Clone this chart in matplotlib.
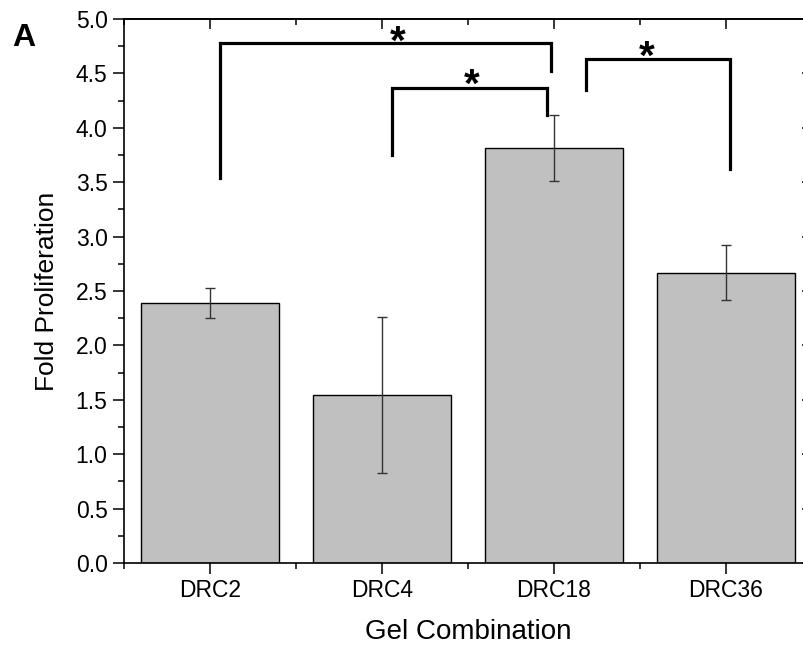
import matplotlib
matplotlib.use("Agg")
import matplotlib.pyplot as plt
import numpy as np

plt.rcParams['font.family'] = ['Liberation Sans', 'DejaVu Sans']

categories = ["DRC2", "DRC4", "DRC18", "DRC36"]
values = [2.39, 1.545, 3.815, 2.67]
errors = [0.14, 0.715, 0.305, 0.25]

# significance brackets: (left x, right x, top y, left-leg bottom, right-leg bottom)
brackets = [
    (0.06, 1.98, 4.78, 3.54, 4.52),
    (1.056, 1.957, 4.37, 3.75, 4.12),
    (2.184, 3.023, 4.63, 4.35, 3.62),
]
stars = [(1.09, 4.88), (1.52, 4.49), (2.54, 4.74)]

fig = plt.figure(figsize=(8.04, 6.5), dpi=100)
ax = fig.add_axes([124/804, 87/650, 688/804, 544/650])

x = np.arange(len(categories))
ax.bar(x, values, width=0.8, color="#c0c0c0", edgecolor="black", linewidth=1.0, zorder=2)
ax.errorbar(x, values, yerr=errors, fmt="none", ecolor="#333333", elinewidth=1.0,
            capsize=3.5, capthick=1.0, zorder=3)

ax.set_xlim(-0.5, 3.5)
ax.set_ylim(0, 5.0)
ax.set_xticks(x)
ax.set_xticklabels(categories)
ax.set_xticks(np.arange(-0.5, 4.0, 1.0), minor=True)
ax.set_yticks(np.arange(0, 5.01, 0.5))
ax.set_yticklabels([f"{v:.1f}" for v in np.arange(0, 5.01, 0.5)])
ax.set_yticks(np.arange(0, 5.01, 0.25), minor=True)

ax.tick_params(axis='both', which='major', direction='out', length=7.8, width=1.1,
               labelsize=16.5, pad=4)
ax.tick_params(axis='both', which='minor', direction='out', length=4, width=1.1)
for s in ax.spines.values():
    s.set_linewidth(1.2)

# mirrored inward ticks on top and right
secx = ax.secondary_xaxis('top')
secx.set_xticks(x)
secx.set_xticks(np.arange(-0.5, 4.0, 1.0), minor=True)
secx.tick_params(which='major', direction='in', length=7.5, width=1.1, labeltop=False)
secx.tick_params(which='minor', direction='in', length=4, width=1.1)
secx.spines['top'].set_linewidth(1.2)

secy = ax.secondary_yaxis('right')
secy.set_yticks(np.arange(0, 5.01, 0.5))
secy.set_yticks(np.arange(0, 5.01, 0.25), minor=True)
secy.tick_params(which='major', direction='in', length=7.5, width=1.1, labelright=False)
secy.tick_params(which='minor', direction='in', length=4, width=1.1)

ax.set_xlabel("Gel Combination", fontsize=20, labelpad=12)
ax.set_ylabel("Fold Proliferation", fontsize=19, labelpad=12)

for (x1, x2, yt, yl, yr) in brackets:
    ax.plot([x1, x1, x2, x2], [yl, yt, yt, yr], color="black", linewidth=2.3,
            solid_joinstyle='miter', zorder=4, clip_on=False)
for (sx, sy) in stars:
    ax.text(sx, sy - 0.1, "*", fontsize=29, fontweight='bold', ha='center', va='center', zorder=5)

fig.text(24/804, 1 - 38/650, "A", fontsize=23, fontweight='bold', ha='center', va='center')

fig.savefig("out.png", dpi=100)
